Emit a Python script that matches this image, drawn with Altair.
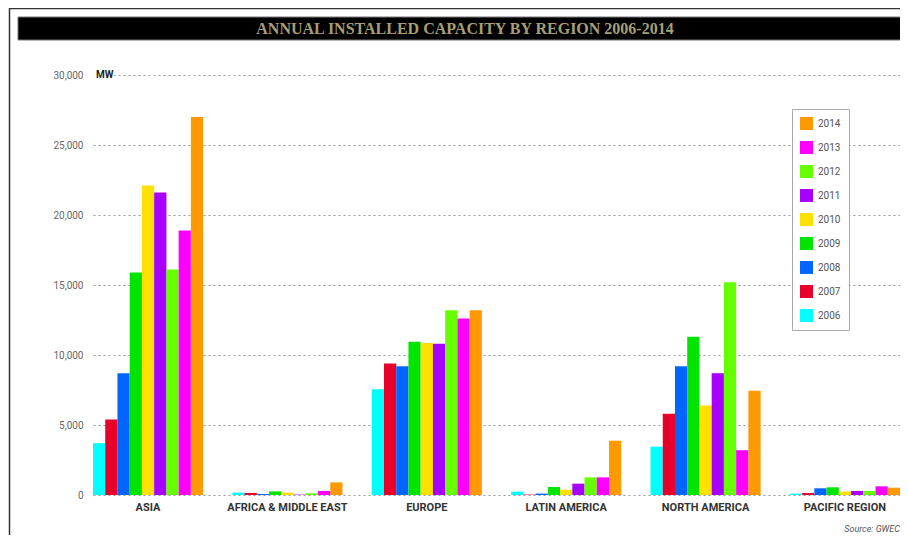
import altair as alt
import pandas as pd

regions = ["ASIA", "AFRICA & MIDDLE EAST", "EUROPE", "LATIN AMERICA", "NORTH AMERICA", "PACIFIC REGION"]
years = ["2006", "2007", "2008", "2009", "2010", "2011", "2012", "2013", "2014"]
colors = ["#00FFFF", "#E8002A", "#0066FF", "#00E400", "#FFE000", "#A800FF", "#66FF00", "#FF00FF", "#FF9900"]

asia = [3700, 5400, 8700, 15900, 22100, 21600, 16100, 18900, 27000]
africa = [170, 150, 70, 260, 170, 30, 120, 290, 900]
europe = [7550, 9400, 9200, 10950, 10850, 10800, 13200, 12600, 13200]
latam = [240, 30, 100, 570, 380, 810, 1260, 1260, 3880]
namerica = [3450, 5800, 9200, 11300, 6400, 8700, 15200, 3200, 7450]
pacific = [100, 140, 480, 550, 240, 290, 290, 620, 520]

y_ticks = [0, 5000, 10000, 15000, 20000, 25000, 30000]
title_text = "ANNUAL INSTALLED CAPACITY BY REGION 2006-2014"
unit_text = "MW"
source_text = "Source: GWEC"

series = [asia, africa, europe, latam, namerica, pacific]
rows = []
for reg, vals in zip(regions, series):
    for yr, v in zip(years, vals):
        rows.append({"region": reg, "year": yr, "mw": v})
df = pd.DataFrame(rows)

NARROW = "Roboto, Liberation Sans, sans-serif"

W, H = 807, 420

bars = alt.Chart(df).mark_bar().encode(
    x=alt.X("region:N", sort=regions,
            scale=alt.Scale(paddingInner=0.21, paddingOuter=0),
            axis=alt.Axis(title=None, labelAngle=0, labelFont=NARROW, labelFontWeight="bold",
                          labelFontSize=11, labelColor="#333", ticks=False, domain=False,
                          labelPadding=6, grid=False)),
    xOffset=alt.XOffset("year:N", sort=years, scale=alt.Scale(paddingInner=0, paddingOuter=0)),
    y=alt.Y("mw:Q", scale=alt.Scale(domain=[0, 30000], nice=False),
            axis=alt.Axis(title=None, values=y_ticks, format=",d", grid=True, gridDash=[2, 3],
                          gridColor="#999", gridWidth=1, ticks=False, domain=False,
                          labelPadding=10, labelColor="#666", labelFontSize=10, labelFont=NARROW)),
    color=alt.Color("year:N", scale=alt.Scale(domain=years, range=colors),
                    legend=alt.Legend(title=None, orient="none", legendX=699, legendY=34,
                                      values=years[::-1], fillColor="white", strokeColor="#aaa",
                                      padding=8, symbolType="square", symbolSize=169,
                                      symbolStrokeWidth=0, labelFontSize=10, labelColor="#555",
                                      labelFont=NARROW, rowPadding=11, labelOffset=5)),
)

one = pd.DataFrame({"t": [title_text]})

frame = alt.Chart(one).mark_rect(fillOpacity=0, stroke="#333", strokeWidth=1.5).encode(
    x=alt.value(-83.5), x2=alt.value(830), y=alt.value(-66.5), y2=alt.value(480))

bar_bg = alt.Chart(one).mark_rect(color="#000000", stroke="#777", strokeWidth=1).encode(
    x=alt.value(-75), x2=alt.value(830), y=alt.value(-58), y2=alt.value(-35))

title = alt.Chart(one).mark_text(font="Liberation Serif", fontSize=16, fontWeight="bold",
                                 color="#A69F74", align="center", baseline="middle").encode(
    text="t:N", x=alt.value(372), y=alt.value(-46))

mw_bg = alt.Chart(pd.DataFrame({"t": [unit_text]})).mark_rect(color="white").encode(
    x=alt.value(0), x2=alt.value(21), y=alt.value(-6), y2=alt.value(6))
mw = alt.Chart(pd.DataFrame({"t": [unit_text]})).mark_text(
    font=NARROW, fontSize=10, fontWeight="bold", color="#222", align="left", baseline="middle").encode(
    text="t:N", x=alt.value(3), y=alt.value(0))

source = alt.Chart(pd.DataFrame({"t": [source_text]})).mark_text(
    font=NARROW, fontSize=9, fontStyle="italic", color="#555", align="right", baseline="bottom").encode(
    text="t:N", x=alt.value(807), y=alt.value(459))

chart = alt.layer(frame, bar_bg, title, bars, mw_bg, mw, source).properties(
    width=W, height=H,
    autosize=alt.AutoSizeParams(type="none"),
    padding={"left": 85, "top": 67, "right": 0, "bottom": 40},
).configure(background="white").configure_view(stroke=None)

chart.save("out.html", embed_options={"renderer": "svg", "actions": False})
